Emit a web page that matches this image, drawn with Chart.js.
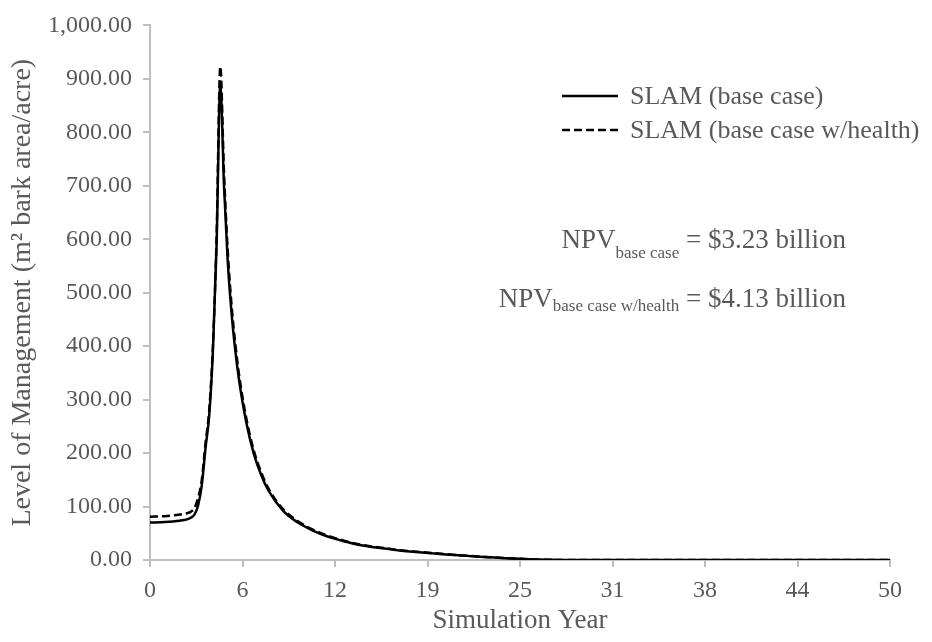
<!DOCTYPE html>
<html>
<head>
<meta charset="utf-8">
<script src="https://cdn.jsdelivr.net/npm/chart.js@4.4.1/dist/chart.umd.min.js"></script>
<style>
  html, body { margin: 0; padding: 0; background: #ffffff; }
  #wrap { width: 932px; height: 642px; position: relative; }
</style>
</head>
<body>
<div id="wrap"><canvas id="c" width="932" height="642"></canvas></div>
<script>
// ---- data ----
const years = [0, 1, 2, 2.5, 2.75, 3, 3.25, 3.5, 3.75, 4, 4.25, 4.5, 4.75, 5, 5.25, 5.5, 5.75, 6, 6.5, 7, 7.5, 8, 9, 10, 11, 12, 13, 14, 15, 16, 17, 18, 19, 20, 21, 22, 23, 24, 25, 26, 27, 28, 30, 35, 40, 45, 50];
const baseCase = [70, 71, 73.5, 76, 79, 85, 102, 140, 209, 270, 390, 590, 890, 700, 560, 465, 395, 340, 258, 200, 160, 130, 92, 70, 55, 44, 36, 29, 24.5, 21, 17.5, 15, 12.8, 10.5, 8.5, 6.6, 5, 3.5, 2.2, 1, 0.3, 0, 0, 0, 0, 0, 0];
const baseCaseHealth = [81, 82, 85, 87.5, 90, 97, 116, 150, 218, 280, 400, 605, 923, 725, 580, 480, 408, 350, 266, 206, 165, 134, 95, 72.5, 57, 45.5, 37, 30, 25.3, 21.7, 18, 15.5, 13.2, 10.9, 8.8, 6.8, 5.2, 3.6, 2.3, 1, 0.3, 0, 0, 0, 0, 0, 0];
const xTickValues = [0, 6.25, 12.5, 18.75, 25, 31.25, 37.5, 43.75, 50];
const xTickLabels = ['0', '6', '12', '19', '25', '31', '38', '44', '50'];
const seriesNames = ['SLAM (base case)', 'SLAM (base case w/health)'];
const npvMain = ['NPV', 'NPV'];
const npvSub = ['base case', 'base case w/health'];
const npvRest = [' = $3.23 billion', ' = $4.13 billion'];

const FONT = "'Liberation Serif', 'Times New Roman', serif";
const GREY_TEXT = '#595959';
const AXIS = '#bfbfbf';
Chart.defaults.font.family = FONT;
Chart.defaults.color = GREY_TEXT;

const toPts = (vals) => years.map((x, i) => ({ x: x, y: vals[i] }));

const overlay = {
  id: 'overlay',
  afterDraw(chart) {
    const ctx = chart.ctx;
    ctx.save();
    // legend
    const ds = chart.data.datasets;
    const rows = [96, 130];
    ds.forEach((d, i) => {
      ctx.beginPath();
      ctx.strokeStyle = d.borderColor;
      ctx.lineWidth = d.borderWidth;
      ctx.setLineDash(d.borderDash || []);
      ctx.moveTo(562, rows[i]);
      ctx.lineTo(618, rows[i]);
      ctx.stroke();
      ctx.setLineDash([]);
      ctx.fillStyle = GREY_TEXT;
      ctx.font = "26px " + FONT;
      ctx.textBaseline = 'middle';
      ctx.textAlign = 'left';
      ctx.fillText(d.label, 630, rows[i] + 1);
    });
    // NPV annotations
    const baselines = [248, 306.5];
    const subDrop = [10, 4];
    const rightEdge = 846;
    for (let i = 0; i < 2; i++) {
      ctx.textBaseline = 'alphabetic';
      ctx.textAlign = 'left';
      ctx.font = "27px " + FONT;
      const wMain = ctx.measureText(npvMain[i]).width;
      const wRest = ctx.measureText(npvRest[i]).width;
      ctx.font = "17px " + FONT;
      const wSub = ctx.measureText(npvSub[i]).width;
      let x = rightEdge - (wMain + wSub + wRest);
      ctx.fillStyle = GREY_TEXT;
      ctx.font = "27px " + FONT;
      ctx.fillText(npvMain[i], x, baselines[i]);
      x += wMain;
      ctx.font = "17px " + FONT;
      ctx.fillText(npvSub[i], x, baselines[i] + subDrop[i]);
      x += wSub;
      ctx.font = "27px " + FONT;
      ctx.fillText(npvRest[i], x, baselines[i]);
    }
    ctx.restore();
  }
};

new Chart(document.getElementById('c'), {
  type: 'line',
  data: {
    datasets: [
      {
        label: seriesNames[0],
        data: toPts(baseCase),
        borderColor: '#000000',
        borderWidth: 2.5,
        pointRadius: 0,
        fill: false,
        cubicInterpolationMode: 'monotone',
        order: 1
      },
      {
        label: seriesNames[1],
        data: toPts(baseCaseHealth),
        borderColor: '#000000',
        borderWidth: 2.5,
        borderDash: [8, 4],
        pointRadius: 0,
        fill: false,
        cubicInterpolationMode: 'monotone',
        order: 0
      }
    ]
  },
  options: {
    responsive: false,
    devicePixelRatio: 1,
    animation: false,
    layout: { padding: { top: 20, right: 42, left: 0, bottom: 0 } },
    plugins: { legend: { display: false }, tooltip: { enabled: false } },
    scales: {
      x: {
        type: 'linear',
        min: 0,
        max: 50,
        afterBuildTicks: (s) => { s.ticks = xTickValues.map(v => ({ value: v })); },
        afterFit: (s) => { s.height = 82; },
        ticks: {
          autoSkip: false,
          maxRotation: 0,
          padding: 9,
          color: GREY_TEXT,
          font: { size: 24, family: FONT },
          callback: (v, i) => xTickLabels[i]
        },
        grid: { drawOnChartArea: false, drawTicks: true, tickLength: 7, color: AXIS, lineWidth: 2 },
        border: { display: true, color: AXIS, width: 2 },
        title: {
          display: true,
          text: 'Simulation Year',
          color: GREY_TEXT,
          font: { size: 27, family: FONT },
          padding: { top: 0, bottom: 5 }
        }
      },
      y: {
        type: 'linear',
        min: 0,
        max: 1000,
        afterFit: (s) => { s.width = 150; },
        ticks: {
          stepSize: 100,
          padding: 11,
          color: GREY_TEXT,
          font: { size: 24, family: FONT },
          callback: (v) => Number(v).toLocaleString('en-US', { minimumFractionDigits: 2, maximumFractionDigits: 2 })
        },
        grid: { drawOnChartArea: false, drawTicks: true, tickLength: 7, color: AXIS, lineWidth: 2 },
        border: { display: true, color: AXIS, width: 2 },
        title: {
          display: true,
          text: 'Level of Management (m² bark area/acre)',
          color: GREY_TEXT,
          font: { size: 28, family: FONT },
          padding: { top: 6, bottom: 0 }
        }
      }
    }
  },
  plugins: [overlay]
});
</script>
</body>
</html>
